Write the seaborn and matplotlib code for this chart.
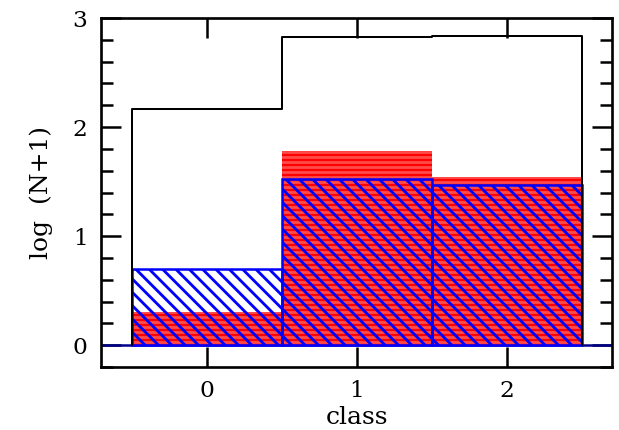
import numpy as np
import seaborn as sns
import matplotlib.pyplot as plt
from matplotlib.ticker import MultipleLocator

# datos
classes = [0, 1, 2]
edges = [-0.5, 0.5, 1.5, 2.5]
total_vals = [2.17, 2.83, 2.84]
red_vals = [0.30, 1.78, 1.54]
blue_vals = [0.70, 1.52, 1.47]

sns.set_style('ticks')
plt.rcParams['font.family'] = ['DejaVu Serif']
plt.rcParams['hatch.linewidth'] = 1.7
plt.rcParams['text.color'] = 'black'
plt.rcParams['axes.labelcolor'] = 'black'
plt.rcParams['xtick.color'] = 'black'
plt.rcParams['ytick.color'] = 'black'

fig = plt.figure(figsize=(619 / 120, 430 / 120), dpi=120)
ax = fig.add_axes([0.163, 0.1465, 0.826, 0.8115])

# linea base azul
ax.axhline(0, color='#00008b', lw=1.5, zorder=1)

# rojo relleno con rayas horizontales
n0 = len(ax.patches)
sns.histplot(x=classes, weights=red_vals, bins=edges, element='bars',
             ax=ax, legend=False)
for p in ax.patches[n0:]:
    p.set_facecolor('#ff0000')
    p.set_edgecolor('#ff4a4a')
    p.set_linewidth(0)
    p.set_hatch('----')
    p.set_zorder(2)

# azul rayado diagonal
n0 = len(ax.patches)
sns.histplot(x=classes, weights=blue_vals, bins=edges, element='bars',
             ax=ax, legend=False)
for p in ax.patches[n0:]:
    p.set_facecolor('none')
    p.set_edgecolor('#0000ff')
    p.set_linewidth(1.5)
    p.set_hatch('\\\\\\')
    p.set_zorder(3)

# histograma total en negro (escalon cerrado hasta cero)
step_x = np.repeat(edges, 2)
step_y = np.concatenate([[0], np.repeat(total_vals, 2), [0]])
sns.lineplot(x=step_x, y=step_y, sort=False, estimator=None,
             color='black', lw=1.2, ax=ax, zorder=4)

ax.set_xlim(-0.707, 2.7)
ax.set_ylim(-0.2, 3)
ax.set_xticks(classes)
ax.yaxis.set_major_locator(MultipleLocator(1))
ax.yaxis.set_minor_locator(MultipleLocator(0.2))
ax.tick_params(which='both', direction='in', top=True, right=True,
               width=1.5, labelsize=14, pad=8)
ax.tick_params(which='major', length=12)
ax.tick_params(which='minor', length=7)
for s in ax.spines.values():
    s.set_linewidth(1.6)
    s.set_color('black')

ax.set_xlabel('class', fontsize=15, labelpad=2)
ax.set_ylabel('log  (N+1)', fontsize=15, labelpad=12)

fig.savefig('out.png', dpi=120)
